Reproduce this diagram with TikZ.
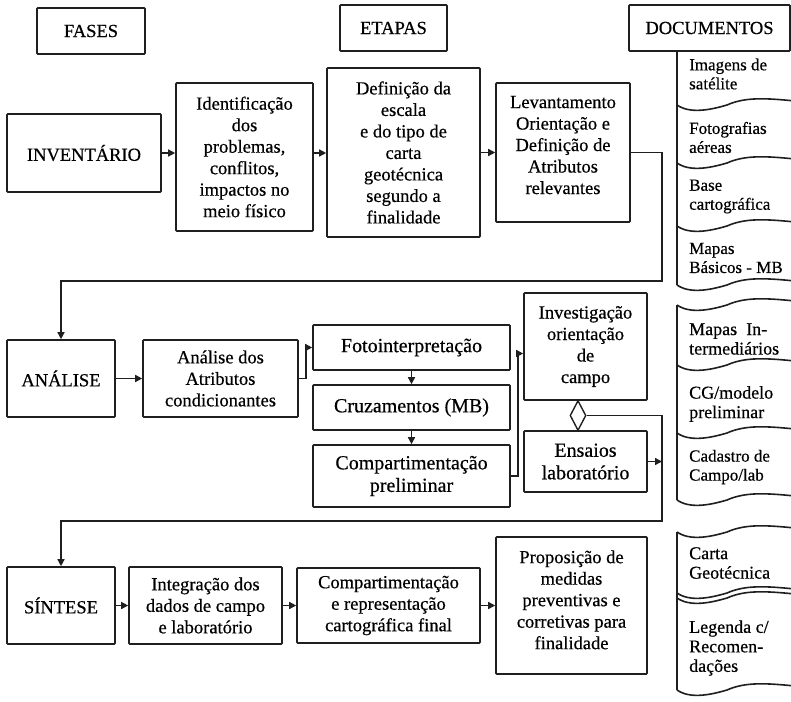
\documentclass[tikz,border=0pt]{standalone}
\usepackage{fontspec}
\setmainfont{Liberation Serif}[FakeBold=0.5]
\usetikzlibrary{arrows.meta,shapes.geometric,calc}

% bottom (or top) edge of a document sheet, starting at the left rule
\newcommand{\docwave}[1]{(677,#1) .. controls (690,#1+9) and (710,#1+5) .. (727,#1) .. controls (745,#1-8) and (765,#1-7) .. (795,#1-4)}

\begin{document}
\begin{tikzpicture}[x=1pt,y=-1pt,
  ink/.style={draw=black!88, line width=1.6pt},
  box/.style={ink, rounded corners=0.8pt, inner sep=1pt, align=center,
    font=\fontsize{18.5}{21.5}\selectfont, text=black},
  bigtext/.style={font=\fontsize{20}{22.5}\selectfont},
  doctext/.style={anchor=west, inner sep=0pt, align=left, text=black,
    font=\fontsize{18}{19.5}\selectfont},
  smalldoc/.style={font=\fontsize{17}{19}\selectfont},
  link/.style={draw=black!88, line width=1.4pt},
  arr/.style={link, -{Triangle[length=7pt,width=7pt]}},
]
\useasboundingbox (0,0) rectangle (791,701);
\clip (0,0) rectangle (791,701);

% column headers
\node[box, minimum width=108pt, minimum height=46pt] (fases)  at (91,31)    {FASES};
\node[box, minimum width=107pt, minimum height=46pt] (etapas) at (393.5,28) {ETAPAS};
\node[box, minimum width=161pt, minimum height=46pt] (docs)   at (709.5,28) {DOCUMENTOS};

% inventory phase
\node[box, minimum width=154pt, minimum height=78pt]  (inv)   at (84,153)     {INVENTÁRIO};
\node[box, minimum width=137pt, minimum height=148pt] (ident) at (244.5,157)   {Identificação\\dos\\problemas,\\conflitos,\\impactos no\\meio físico};
\node[box, minimum width=153pt, minimum height=169pt] (def)   at (403.5,152.5) {Definição da\\escala\\e do tipo de\\carta\\geotécnica\\segundo a\\finalidade};
\node[box, minimum width=134pt, minimum height=139pt] (lev)   at (563,152.5)   {Levantamento\\Orientação e\\Definição de\\Atributos\\relevantes\\[-6.5pt]};

% analysis phase
\node[box, minimum width=108pt, minimum height=77pt]  (anal)  at (61,378.5)    {ANÁLISE};
\node[box, minimum width=155pt, minimum height=77pt]  (atr)   at (220.5,378.5) {Análise dos\\Atributos\\condicionantes};
\node[box, bigtext, minimum width=197pt, minimum height=45pt] (foto)  at (411.5,347.5) {Fotointerpretação};
\node[box, bigtext, minimum width=197pt, minimum height=45pt] (cruz)  at (411.5,407.5) {Cruzamentos (MB)};
\node[box, bigtext, minimum width=197pt, minimum height=62pt] (compp) at (411.5,476)   {Compartimentação\\preliminar};
\node[box, minimum width=123pt, minimum height=107pt] (invc)  at (585.5,346.5) {Investigação\\orientação\\de\\campo};
\node[box, bigtext, minimum width=123pt, minimum height=61pt] (ens) at (585.5,461.5) {Ensaios\\laboratório};
\node[diamond, link, minimum width=16pt, minimum height=30pt, inner sep=0pt] (dia) at (578,415.5) {};

% synthesis phase
\node[box, minimum width=108pt, minimum height=77pt]  (sint)  at (61,605.5)    {SÍNTESE};
\node[box, minimum width=153pt, minimum height=77pt]  (integ) at (205.5,605.5) {Integração dos\\dados de campo\\e laboratório};
\node[box, minimum width=183pt, minimum height=75pt]  (compf) at (388.5,605.5) {Compartimentação\\e representação\\cartográfica final};
\node[box, minimum width=151pt, minimum height=137pt] (prop)  at (571.5,605.5) {Proposição de\\medidas\\preventivas e\\corretivas para\\finalidade\\[-10pt]};

% bends of the long return connectors
\coordinate (bendA) at (662,281);
\coordinate (bendB) at (61,281);
\coordinate (bendC) at (662,521);
\coordinate (bendD) at (61,521);

% connectors, first row
\draw[arr] (inv.east) -- (inv.east -| ident.west);
\draw[arr] (inv.east -| ident.east) -- (inv.east -| def.west);
\draw[arr] (def.east) -- (def.east -| lev.west);
\draw[arr] (lev.east) -| (bendA) -- (bendB) -- (anal.north);

% connectors, second row
\draw[arr] (anal.east) -- (atr.west);
\draw[arr] (atr.east) -- ++(7,0) |- (foto.west);
\draw[arr] (foto.south) -- (cruz.north);
\draw[arr] (cruz.south) -- (compp.north);
\draw[arr] (compp.east) -- ++(7,0) |- ([yshift=-7pt]invc.west);
\draw[arr] (dia.east) -| (bendC) -- (bendD) -- (sint.north);
\draw[arr] (ens.east) -- (ens.east -| bendC);

% connectors, third row
\draw[arr] (sint.east) -- (integ.west);
\draw[arr] (integ.east) -- (compf.west);
\draw[arr] (compf.east) -- (prop.west);

% document stacks
\draw[ink] (677,51) -- (677,285);
\draw[ink] \docwave{105};
\draw[ink] \docwave{163};
\draw[ink] \docwave{226};
\draw[ink] \docwave{285};

\draw[ink] \docwave{305};
\draw[ink] (677,305) -- (677,500);
\draw[ink] \docwave{365};
\draw[ink] \docwave{433};
\draw[ink] \docwave{500};

\draw[ink] \docwave{532};
\draw[ink] (677,532) -- (677,690);
\draw[ink] \docwave{593};
\draw[ink] \docwave{598};
\draw[ink] \docwave{690};

% document labels
\node[doctext, smalldoc] (d1) at (689,74)    {Imagens de\\satélite};
\node[doctext, smalldoc] (d2) at (689,137.5) {Fotografias\\aéreas};
\node[doctext, smalldoc] (d3) at (689,196.5) {Base\\cartográfica};
\node[doctext, smalldoc] (d4) at (689,258)   {Mapas\\Básicos - MB};
\node[doctext] (d5) at (689,339)   {Mapas~~In-\\termediários};
\node[doctext] (d6) at (689,404)   {CG/modelo\\preliminar};
\node[doctext, smalldoc] (d7) at (689,467)   {Cadastro de\\Campo/lab};
\node[doctext] (d8) at (689,563)   {Carta\\Geotécnica};
\node[doctext] (d9) at (689,648)   {Legenda c/\\Recomen-\\dações};
\end{tikzpicture}
\end{document}
